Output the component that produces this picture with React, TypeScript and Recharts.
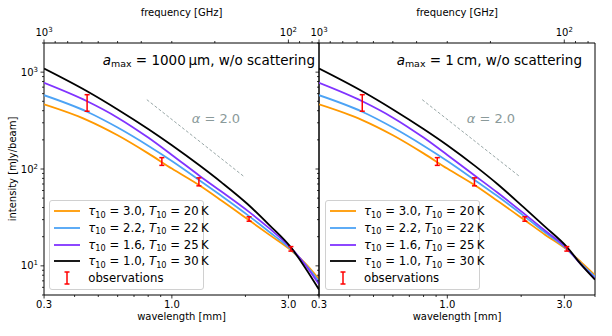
import React from 'react';
import { ComposedChart, Line, Scatter, ErrorBar, XAxis, YAxis, ReferenceArea } from 'recharts';

const FONT = '"DejaVu Sans", Verdana, sans-serif';
const C_MM_GHZ = 299.792458;

// wavelength grid [mm] the model curves are read at
const wavelength = [0.3, 0.45, 0.6, 0.8, 1.0, 1.3, 1.6, 2.05, 2.5, 3.07, 3.5, 4.0];

// a_max = 1000 um panel, intensity [mJy/beam]
const left_t20 = [464, 320, 223, 145, 101, 67.5, 47, 30.1, 21.0, 14.5, 10.75, 7.3];
const left_t22 = [578, 390, 268, 174, 121, 76.2, 52.5, 33.2, 22.5, 14.8, 10.5, 6.9];
const left_t25 = [775, 500, 339, 211, 139.6, 84.8, 58.1, 36.7, 24.5, 15.3, 10.4, 6.45];
const left_t30 = [1090, 635, 412, 259, 176, 108.6, 72.4, 43, 26.5, 15.5, 9.7, 5.7];

// a_max = 1 cm panel
const right_t20 = [464, 320, 223, 145, 101, 67.5, 47, 30.1, 21.0, 14.7, 11.0, 8.0];
const right_t22 = [578, 390, 268, 174, 121, 76.2, 52.5, 32.8, 22.2, 14.9, 10.6, 7.7];
const right_t25 = [775, 500, 339, 211, 139.6, 84.8, 57.1, 34.8, 23.2, 15.2, 10.4, 7.35];
const right_t30 = [1090, 635, 412, 259, 176, 107, 70, 40.1, 25.4, 15.7, 10.4, 7.2];

// observations
const obsLam = [0.45, 0.91, 1.29, 2.07, 3.07];
const obsFlux = [490, 120, 74, 30.5, 15];
const obsErr = [95, 11, 7, 1.6, 0.8];

// alpha = 2 guide line
const slopeLam = [0.79, 1.98];
const slopeFlux = [520, 83];

// axis ticks
const lamTicks = [0.3, 0.4, 0.5, 0.6, 0.7, 0.8, 0.9, 1, 2, 3, 4];
const lamLabels = [0.3, 1, 3];
const freqTicks = [1000, 900, 800, 700, 600, 500, 400, 300, 200, 100, 90, 80];
const freqLabels = { 1000: '3', 100: '2' };
const fluxTicks = [5, 6, 7, 8, 9, 10, 20, 30, 40, 50, 60, 70, 80, 90, 100, 200, 300, 400, 500, 600, 700, 800, 900, 1000, 2000];
const fluxLabels = { 10: '1', 100: '2', 1000: '3' };

const models = [
  { tau: '3.0', T: '20', color: '#ff9900', left: left_t20, right: right_t20 },
  { tau: '2.2', T: '22', color: '#4ca3f5', left: left_t22, right: right_t22 },
  { tau: '1.6', T: '25', color: '#8033ff', left: left_t25, right: right_t25 },
  { tau: '1.0', T: '30', color: '#000000', left: left_t30, right: right_t30 },
];

const toRows = (ys) => wavelength.map((lam, i) => ({ lam, v: ys[i] }));
const obsRows = obsLam.map((lam, i) => ({ lam, v: obsFlux[i], err: obsErr[i] }));
const slopeRows = slopeLam.map((lam, i) => ({ lam, v: slopeFlux[i] }));

const X_DOMAIN = [C_MM_GHZ / 1000, 4];
const Y_DOMAIN = [5, 2000];

const BottomTick = ({ x, y, payload }) => {
  const major = lamLabels.includes(payload.value);
  return (
    <g>
      <line x1={x} x2={x} y1={y} y2={y + (major ? 3.5 : 2)} stroke="#000" strokeWidth={0.8} />
      {major && (
        <text x={x} y={y + 13} textAnchor="middle" fontSize={10} fontFamily={FONT} fill="#000">
          {payload.value.toFixed(1)}
        </text>
      )}
    </g>
  );
};

const TopTick = ({ x, y, payload }) => {
  const f = Math.round(C_MM_GHZ / payload.value);
  const exp = freqLabels[f];
  return (
    <g>
      <line x1={x} x2={x} y1={y} y2={y - (exp ? 3.5 : 2)} stroke="#000" strokeWidth={0.8} />
      {exp && (
        <text x={x} y={y - 7} textAnchor="middle" fontSize={10} fontFamily={FONT} fill="#000">
          <tspan>10</tspan>
          <tspan dy={-4} fontSize={7}>{exp}</tspan>
        </text>
      )}
    </g>
  );
};

const makeLeftTick = (showLabels) => ({ x, y, payload }) => {
  const exp = fluxLabels[payload.value];
  return (
    <g>
      <line x1={x} x2={x - (exp ? 3.5 : 2)} y1={y} y2={y} stroke="#000" strokeWidth={0.8} />
      {showLabels && exp && (
        <text x={x - 6} y={y + 3.5} textAnchor="end" fontSize={10} fontFamily={FONT} fill="#000">
          <tspan>10</tspan>
          <tspan dy={-4} fontSize={7}>{exp}</tspan>
        </text>
      )}
    </g>
  );
};

const Panel = ({ curveKey, showYLabels, width, margin, yWidth }) => (
  <ComposedChart width={width} height={336} margin={margin}>
    <XAxis
      xAxisId="b"
      dataKey="lam"
      type="number"
      scale="log"
      domain={X_DOMAIN}
      allowDataOverflow
      ticks={lamTicks}
      interval={0}
      tickSize={0}
      tickMargin={0}
      axisLine={false}
      tickLine={false}
      height={30}
      tick={(p) => <BottomTick {...p} />}
    />
    <XAxis
      xAxisId="t"
      orientation="top"
      dataKey="lam"
      type="number"
      scale="log"
      domain={X_DOMAIN}
      allowDataOverflow
      ticks={freqTicks.map((f) => C_MM_GHZ / f)}
      interval={0}
      tickSize={0}
      tickMargin={0}
      axisLine={false}
      tickLine={false}
      height={30}
      tick={(p) => <TopTick {...p} />}
    />
    <YAxis
      yAxisId="y"
      type="number"
      scale="log"
      domain={Y_DOMAIN}
      allowDataOverflow
      ticks={fluxTicks}
      interval={0}
      tickSize={0}
      tickMargin={0}
      axisLine={false}
      tickLine={false}
      width={yWidth}
      tick={makeLeftTick(showYLabels)}
    />
    <Line
      xAxisId="t"
      yAxisId="y"
      data={slopeRows}
      dataKey="v"
      type="linear"
      stroke="#7f9090"
      strokeWidth={0.8}
      strokeDasharray="3 2"
      dot={false}
      isAnimationActive={false}
    />
    {models.map((m) => (
      <Line
        key={m.tau}
        xAxisId="b"
        yAxisId="y"
        data={toRows(m[curveKey])}
        dataKey="v"
        type="monotone"
        stroke={m.color}
        strokeWidth={1.8}
        dot={false}
        isAnimationActive={false}
      />
    ))}
    <Scatter xAxisId="b" yAxisId="y" data={obsRows} dataKey="v" shape={() => <g />} isAnimationActive={false}>
      <ErrorBar dataKey="err" direction="y" width={2.5} stroke="#ff0000" strokeWidth={1.5} isAnimationActive={false} />
    </Scatter>
    <ReferenceArea
      xAxisId="b"
      yAxisId="y"
      x1={X_DOMAIN[0]}
      x2={X_DOMAIN[1]}
      y1={Y_DOMAIN[0]}
      y2={Y_DOMAIN[1]}
      fill="none"
      stroke="#000"
      strokeWidth={1}
      ifOverflow="visible"
    />
  </ComposedChart>
);

const Txt = ({ x, y, anchor = 'middle', size = 10, color = '#000', rotate = 0, children }) => {
  const tx = anchor === 'middle' ? '-50%' : anchor === 'end' ? '-100%' : '0';
  return (
    <div
      style={{
        position: 'absolute',
        left: x,
        top: y,
        transform: `translate(${tx}, -50%)${rotate ? ` rotate(${rotate}deg)` : ''}`,
        transformOrigin: 'center',
        fontSize: size,
        fontFamily: FONT,
        color,
        whiteSpace: 'nowrap',
        lineHeight: 1,
      }}
    >
      {children}
    </div>
  );
};

const Sub = ({ children }) => (
  <span style={{ fontSize: '0.7em', position: 'relative', top: '0.28em' }}>{children}</span>
);

const Legend = ({ x }) => (
  <div
    style={{
      position: 'absolute',
      left: x,
      top: 200,
      width: 155,
      height: 90,
      boxSizing: 'border-box',
      border: '1px solid #d0d0d0',
      borderRadius: 3,
      background: 'rgba(255,255,255,0.85)',
      fontFamily: FONT,
      fontSize: 11.7,
      paddingTop: 2,
    }}
  >
    {models.map((m) => (
      <div key={m.tau} style={{ height: 16.7, display: 'flex', alignItems: 'center', whiteSpace: 'nowrap' }}>
        <svg width={38} height={10} style={{ flex: 'none' }}>
          <line x1={4} x2={30} y1={5} y2={5} stroke={m.color} strokeWidth={1.8} />
        </svg>
        <span>
          <i>τ</i>
          <Sub>10</Sub> = {m.tau}, <i>T</i>
          <Sub>10</Sub> = {m.T}&thinsp;K
        </span>
      </div>
    ))}
    <div style={{ height: 16.7, display: 'flex', alignItems: 'center', whiteSpace: 'nowrap' }}>
      <svg width={38} height={16} style={{ flex: 'none' }}>
        <line x1={17} x2={17} y1={2} y2={14} stroke="#ff0000" strokeWidth={1.5} />
        <line x1={14.5} x2={19.5} y1={2} y2={2} stroke="#ff0000" strokeWidth={1.5} />
        <line x1={14.5} x2={19.5} y1={14} y2={14} stroke="#ff0000" strokeWidth={1.5} />
      </svg>
      <span>observations</span>
    </div>
  </div>
);

export default function App() {
  return (
    <div style={{ position: 'absolute', left: 0, top: 0, width: 612, height: 336, background: '#fff', overflow: 'hidden' }}>
      <div style={{ position: 'absolute', left: 0, top: 0 }}>
        <Panel curveKey="left" showYLabels width={320} yWidth={40} margin={{ top: 13, right: 1, bottom: 11, left: 4 }} />
      </div>
      <div style={{ position: 'absolute', left: 300, top: 0 }}>
        <Panel curveKey="right" showYLabels={false} width={312} yWidth={19} margin={{ top: 13, right: 17, bottom: 11, left: 0 }} />
      </div>

      <Txt x={181.5} y={13}>frequency [GHz]</Txt>
      <Txt x={457} y={13}>frequency [GHz]</Txt>
      <Txt x={181.5} y={316.5}>wavelength [mm]</Txt>
      <Txt x={457} y={316.5}>wavelength [mm]</Txt>
      <Txt x={13} y={169} rotate={-90}>intensity [mJy/beam]</Txt>

      <Txt x={315} y={60.5} anchor="end" size={13.5}>
        <i>a</i>
        <Sub>max</Sub> = 1000&thinsp;μm, w/o scattering
      </Txt>
      <Txt x={582} y={60.5} anchor="end" size={13.5}>
        <i>a</i>
        <Sub>max</Sub> = 1&thinsp;cm, w/o scattering
      </Txt>

      <Txt x={191.7} y={118} anchor="start" size={13} color="#8a9a9a">
        <i>α</i> = 2.0
      </Txt>
      <Txt x={466.7} y={118} anchor="start" size={13} color="#8a9a9a">
        <i>α</i> = 2.0
      </Txt>

      <Legend x={49.3} />
      <Legend x={325} />
    </div>
  );
}
